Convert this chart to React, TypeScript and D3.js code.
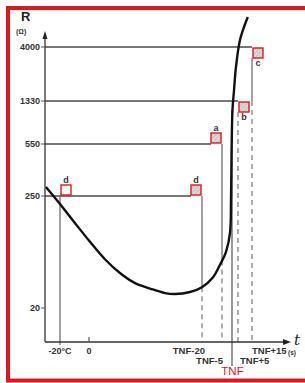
import * as d3 from 'd3';

// R axis (ohm) - schematic, ticks not evenly spaced
const rTicks = [20, 250, 550, 1330, 4000];
const rTickLabels = ['20', '250', '550', '1330', '4000'];

// time axis - schematic positions (TNF taken as 100)
const tKeys = [-20, 0, 80, 95, 100, 105, 115];
const tTickLabels = ['-20°C', '0', 'TNF-20', 'TNF-5', 'TNF', 'TNF+5', 'TNF+15'];

// resistance curve
const curveT = [-29.7, -20, -9.7, 0.7, 11.3, 21.9, 32.6, 43.2, 53.8, 60.9, 71.5, 80, 88.3, 93.5, 97, 99, 99.5, 99.8, 100.4, 101.7, 103.3, 106.4, 109.3, 112];
const curveR = [287, 209, 136, 89, 60, 44, 35, 31, 28, 27.4, 28.7, 32, 40, 53, 71, 109, 228, 502, 1106, 1665, 2660, 4610, 6015, 7375];

// check points
const markIds = ['d', 'd', 'a', 'b', 'c'];
const markT = [-20, 80, 95, 105, 115];
const markR = [250, 250, 550, 1330, 4000];
const markHatched = [false, true, true, true, true];
const markCorner = ['tr', 'tl', 'tl', 'br', 'br'];
// where the solid part of the drop line stops: 'axis', 'curve', 'none' or an R value
const markSolidTo: (string | number)[] = ['axis', 'curve', 'curve', 'none', 1330];

const W = 305;
const H = 383;
const X0 = 45;
const Y0 = 342;
const BOX = 10;
const INK = '#333';
const RED = '#e3151c';

const x = d3.scaleLinear().domain(tKeys).range([60, 89, 202, 222, 232, 238, 252]);
const y = d3.scaleLog().domain(rTicks).range([308, 196, 144, 101, 47]);

const pts: [number, number][] = curveT.map((t, i) => [x(t), y(curveR[i])]);
const line = d3.line().curve(d3.curveCatmullRom.alpha(0.5));

// y of the curve at a given pixel x
function curveYAt(px: number) {
  for (let i = 1; i < pts.length; i++) {
    const [x1, y1] = pts[i - 1];
    const [x2, y2] = pts[i];
    if (px >= x1 && px <= x2) return y1 + ((px - x1) / (x2 - x1)) * (y2 - y1);
  }
  return Y0;
}

export default function App() {
  const marks = markT.map((t, i) => {
    const mx = x(t);
    const my = y(markR[i]);
    const c = markCorner[i];
    const bx = c === 'tl' ? mx - BOX - 1 : mx + 1;
    const by = c === 'br' ? my + 1 : my - BOX - 1;
    let solidEnd = my;
    const s = markSolidTo[i];
    if (s === 'axis') solidEnd = Y0 + 3;
    else if (s === 'curve') solidEnd = curveYAt(mx);
    else if (typeof s === 'number') solidEnd = y(s);
    const vStart = c === 'br' ? my + BOX + 1 : my;
    return { id: markIds[i], mx, my, bx, by, c, solidEnd, vStart, hatched: markHatched[i] };
  });

  const tnfX = x(100);

  return (
    <svg width={W} height={H} style={{ position: 'absolute', left: 0, top: 0, background: '#fff' }}
      fontFamily="'Liberation Sans', Arial, sans-serif">
      <defs>
        <pattern id="hatch" width="3" height="3" patternUnits="userSpaceOnUse" patternTransform="rotate(45)">
          <rect width="3" height="3" fill="#c9c9c9" />
          <line x1="0" y1="0" x2="0" y2="3" stroke="#f2f2f2" strokeWidth="1.2" />
        </pattern>
      </defs>
      <rect width={W} height={H} fill="#fff" />

      {/* horizontal reference lines */}
      {marks.filter(m => m.c !== 'tr').map((m, i) => (
        <line key={'h' + i} x1={X0} x2={m.c === 'tl' ? m.bx : m.mx} y1={m.my} y2={m.my}
          stroke="#4a4a4a" strokeWidth={1.3} />
      ))}

      {/* drop lines */}
      {marks.map((m, i) => (
        <g key={'v' + i}>
          {m.solidEnd > m.vStart && (
            <line x1={m.mx} x2={m.mx} y1={m.vStart} y2={m.solidEnd} stroke="#555" strokeWidth={1.1} />
          )}
          {markSolidTo[i] !== 'axis' && (
            <line x1={m.mx} x2={m.mx} y1={Math.max(m.solidEnd, m.vStart)} y2={Y0}
              stroke="#777" strokeWidth={1.2} strokeDasharray="5,4" />
          )}
        </g>
      ))}
      <line x1={tnfX} x2={tnfX} y1={y(1106)} y2={366} stroke="#444" strokeWidth={1.1} />

      {/* axes */}
      <line x1={X0} x2={X0} y1={Y0} y2={38} stroke="#333" strokeWidth={1.3} />
      <path d={`M${X0},31 L${X0 - 2.5},39 L${X0 + 2.5},39 Z`} fill="#222" />
      <line x1={X0} x2={284} y1={Y0} y2={Y0} stroke="#333" strokeWidth={1.3} />
      <path d={`M291,${Y0} L283,${Y0 - 3} L283,${Y0 + 3} Z`} fill="#222" />

      {rTicks.map((v, i) => (
        <g key={'yt' + i}>
          <line x1={X0 - 4} x2={X0} y1={y(v)} y2={y(v)} stroke="#555" strokeWidth={1} />
          <text x={X0 - 5} y={y(v) + 3.3} textAnchor="end" fontSize={9} fontWeight="bold" fill={INK}>
            {rTickLabels[i]}
          </text>
        </g>
      ))}
      <text x={21} y={21} fontSize={13} fontWeight="bold" fill="#222">R</text>
      <text x={16} y={34} fontSize={7} fontWeight="bold" fill={INK}>(Ω)</text>

      {/* curve */}
      <path d={line(pts) || ''} fill="none" stroke="#111" strokeWidth={2.4} />

      {/* boxes */}
      {marks.map((m, i) => (
        <g key={'b' + i}>
          <rect x={m.bx} y={m.by} width={BOX} height={BOX}
            fill={m.hatched ? 'url(#hatch)' : '#fff'} stroke={RED} strokeWidth={1.4} />
          <text x={m.bx + BOX / 2} y={m.c === 'br' ? m.by + BOX + 8 : m.by - 2.5}
            textAnchor="middle" fontSize={9} fontWeight="bold" fill={INK}>{m.id}</text>
        </g>
      ))}

      {/* x tick labels */}
      <line x1={x(0)} x2={x(0)} y1={Y0 - 5} y2={Y0} stroke="#555" strokeWidth={1.2} />
      <text x={x(-20)} y={354} textAnchor="middle" fontSize={9} fontWeight="bold" fill={INK}>{tTickLabels[0]}</text>
      <text x={x(0)} y={354} textAnchor="middle" fontSize={9} fontWeight="bold" fill={INK}>{tTickLabels[1]}</text>
      <text x={x(80) + 3} y={354} textAnchor="end" fontSize={9.5} fontWeight="bold" fill={INK}>{tTickLabels[2]}</text>
      <text x={x(95) + 1} y={363.5} textAnchor="end" fontSize={9.5} fontWeight="bold" fill={INK}>{tTickLabels[3]}</text>
      <text x={x(100) + 0.5} y={375} textAnchor="middle" fontSize={11.5} fill={RED}>{tTickLabels[4]}</text>
      <text x={x(105) + 2} y={363.5} fontSize={9.5} fontWeight="bold" fill={INK}>{tTickLabels[5]}</text>
      <text x={x(115)} y={354} fontSize={9.5} fontWeight="bold" fill={INK}>{tTickLabels[6]}</text>
      <text x={294} y={345} fontSize={15} fontStyle="italic" fontFamily="'DejaVu Serif', serif" fill="#222">t</text>
      <text x={288} y={355} fontSize={6.5} fontWeight="bold" fill={INK}>(s)</text>

      {/* red frame */}
      <rect x={8} y={8} width={W + 20} height={372.5} fill="none" stroke={RED} strokeWidth={4} />
    </svg>
  );
}
